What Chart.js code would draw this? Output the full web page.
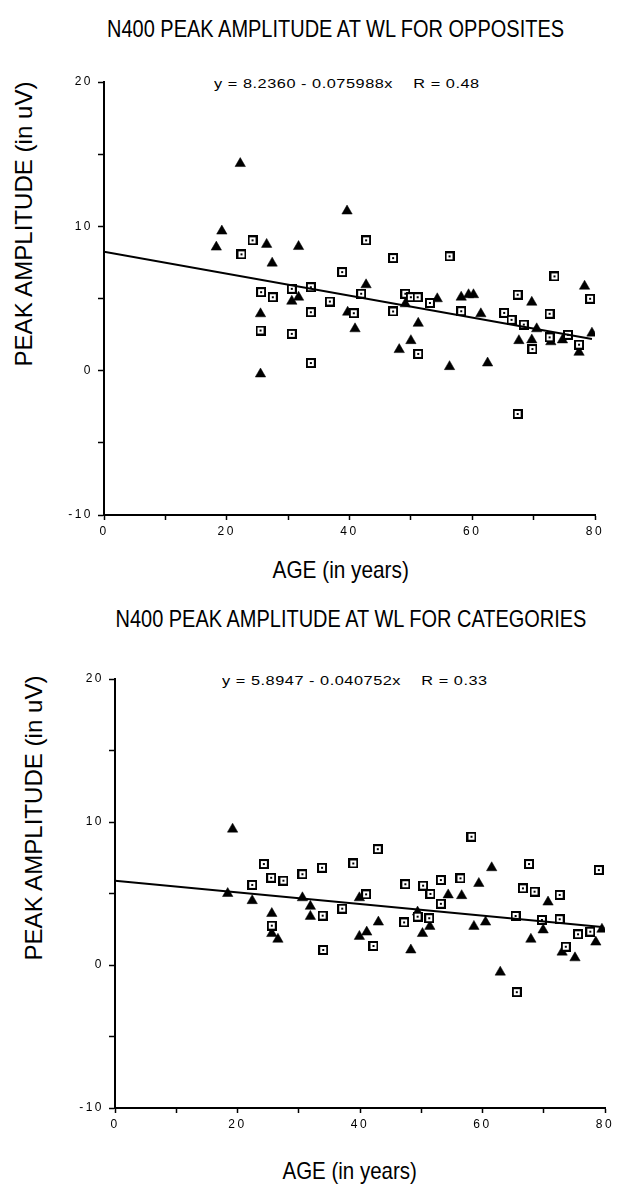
<!DOCTYPE html>
<html>
<head>
<meta charset="utf-8">
<script src="https://cdn.jsdelivr.net/npm/chart.js@4.4.1/dist/chart.umd.min.js"></script>
<style>
  body { margin: 0; background: #fff; width: 631px; height: 1184px; position: relative; overflow: hidden; }
  canvas { position: absolute; left: 0; }
  .lbl { position: absolute; white-space: pre; color: #000; line-height: 1; }
  .head { font-family: "Liberation Sans", Arial, sans-serif; font-size: 24px; }
  .eq { font-family: "Liberation Sans", Arial, sans-serif; font-size: 12px; letter-spacing: 0.4px; }
</style>
</head>
<body>
<div class="lbl head" data-cx="335" data-cy="29" data-w="457">N400 PEAK AMPLITUDE AT WL FOR OPPOSITES</div>
<div class="lbl eq" data-cx="347" data-cy="84" data-w="266">y = 8.2360 - 0.075988x    R = 0.48</div>
<div class="lbl head" data-cx="24" data-cy="224" data-w="285" data-rot="1">PEAK AMPLITUDE (in uV)</div>
<div class="lbl head" data-cx="340" data-cy="570" data-w="136">AGE (in years)</div>
<canvas id="opposites" width="631" height="545" style="top:0"></canvas>

<div class="lbl head" data-cx="351" data-cy="619" data-w="471">N400 PEAK AMPLITUDE AT WL FOR CATEGORIES</div>
<div class="lbl eq" data-cx="355" data-cy="681" data-w="266">y = 5.8947 - 0.040752x    R = 0.33</div>
<div class="lbl head" data-cx="34" data-cy="818" data-w="285" data-rot="1">PEAK AMPLITUDE (in uV)</div>
<div class="lbl head" data-cx="349" data-cy="1171" data-w="134">AGE (in years)</div>
<canvas id="categories" width="631" height="538" style="top:600px"></canvas>

<script>
// Opposites: triangles and squares (age in years, amplitude in uV)
const oppTriAge = [22.2, 19.2, 18.3, 26.5, 27.4, 25.5, 25.5, 39.6, 31.7, 30.6, 31.7, 39.7, 42.7, 49.1, 51.2, 50.0, 48.1, 40.9,
                   78.3, 54.3, 58.2, 59.4, 60.2, 61.4, 69.7, 70.5, 67.6, 69.7, 72.8, 74.7, 77.4, 79.5, 56.3, 62.5];
const oppTriAmp = [14.35, 9.67, 8.56, 8.75, 7.45, 3.94, -0.23, 11.06, 8.6, 4.81, 5.09, 4.05, 5.95, 4.63, 3.28, 2.08, 1.46, 2.9,
                   5.85, 4.98, 5.09, 5.26, 5.26, 3.94, 4.74, 2.9, 2.08, 2.13, 2.0, 2.13, 1.27, 2.6, 0.28, 0.53];
const oppSqAge = [24.2, 22.4, 25.6, 25.5, 42.7, 47.1, 38.8, 27.5, 30.6, 33.7, 36.8, 33.7, 40.7, 41.9, 49.1, 50.0, 51.1, 53.1,
                  47.1, 51.2, 30.6, 33.7, 56.3, 73.4, 79.2, 58.2, 67.4, 72.6, 65.2, 66.4, 68.4, 69.8, 72.6, 75.6, 77.4, 67.4];
const oppSqAmp = [9.03, 8.06, 5.44, 2.78, 9.03, 7.8, 6.83, 5.09, 5.67, 5.78, 4.79, 4.05, 3.98, 5.33, 5.33, 5.09, 5.09, 4.69,
                  4.1, 1.16, 2.55, 0.53, 7.92, 6.53, 4.98, 4.12, 5.26, 3.94, 4.0, 3.52, 3.19, 1.5, 2.31, 2.48, 1.8, -3.0];
const oppIntercept = 8.2360, oppSlope = -0.075988;

// Categories
const catTriAge = [19.2, 18.4, 22.4, 25.6, 25.6, 26.6, 30.6, 31.9, 31.9, 39.9, 43.0, 41.1, 39.9, 49.4, 51.4, 50.2,
                   48.3, 54.4, 56.6, 59.4, 61.5, 70.7, 69.9, 58.6, 60.5, 67.9, 78.5, 79.5, 73.0, 75.1, 62.9];
const catTriAmp = [9.5, 5.0, 4.5, 3.6, 2.2, 1.8, 4.7, 4.1, 3.4, 4.7, 3.0, 2.3, 2.0, 3.7, 2.7, 2.2,
                   1.05, 4.9, 4.85, 5.7, 6.8, 4.4, 2.45, 2.7, 3.0, 1.8, 1.6, 2.5, 0.9, 0.5, -0.5];
const catSqAge = [24.3, 25.5, 22.4, 25.6, 42.9, 38.9, 33.8, 30.6, 27.5, 47.4, 50.3, 51.5, 53.2, 41.0, 33.9, 37.1, 42.2, 34.0,
                  49.4, 47.2, 51.3, 53.2, 58.2, 67.6, 79.0, 56.4, 66.6, 68.5, 72.6, 65.4, 69.7, 72.6, 75.6, 77.6, 73.6, 65.6];
const catSqAmp = [7.06, 6.1, 5.6, 2.75, 8.1, 7.1, 6.8, 6.35, 5.9, 5.65, 5.55, 4.97, 5.94, 4.94, 3.45, 3.94, 1.33, 1.05,
                  3.38, 2.98, 3.27, 4.28, 8.97, 7.06, 6.64, 6.06, 5.36, 5.13, 4.9, 3.43, 3.15, 3.2, 2.15, 2.33, 1.28, -1.9];
const catIntercept = 5.8947, catSlope = -0.040752;

const fitAgeRange = [0, 79.5];
const ageRange = [0, 80];
const ampRange = [-10, 20];

// hollow square marker with a dot in the middle
function squareMarker() {
    const c = document.createElement('canvas');
    c.width = 10; c.height = 10;
    const g = c.getContext('2d');
    g.fillStyle = '#000'; g.fillRect(0, 0, 10, 10);
    g.fillStyle = '#fff'; g.fillRect(2, 2, 6, 6);
    g.fillStyle = '#000'; g.fillRect(4, 4, 2, 2);
    return c;
}
const sq = squareMarker();

const spacedText = {
    id: 'spacedText',
    beforeDraw(chart) { chart.ctx.letterSpacing = '2.5px'; }
};

function pairs(xs, ys) { return xs.map((x, i) => ({ x: x, y: ys[i] })); }

function makeChart(id, triAge, triAmp, sqAge, sqAmp, a, b, pad) {
    const fit = fitAgeRange.map(x => ({ x: x, y: a + b * x }));
    const tickFont = { family: 'Liberation Sans, Arial, sans-serif', size: 12 };
    return new Chart(document.getElementById(id), {
        type: 'scatter',
        data: {
            datasets: [
                { data: fit, showLine: true, borderColor: '#000', borderWidth: 2, pointRadius: 0 },
                { data: pairs(sqAge, sqAmp), pointStyle: sq, pointRadius: 5 },
                { data: pairs(triAge, triAmp), pointStyle: 'triangle', pointRadius: 6,
                  backgroundColor: '#000', borderColor: '#000', borderWidth: 0.5 }
            ]
        },
        options: {
            responsive: false,
            animation: false,
            events: [],
            layout: { padding: pad },
            plugins: { legend: { display: false }, tooltip: { enabled: false } },
            scales: {
                x: {
                    type: 'linear', min: ageRange[0], max: ageRange[1],
                    ticks: { stepSize: 10, autoSkip: false, maxRotation: 0, color: '#000', font: tickFont, padding: 4,
                             callback: v => v % 20 === 0 ? v : '' },
                    grid: { drawOnChartArea: false, tickLength: 5, tickColor: '#000', tickWidth: 1.5 },
                    border: { color: '#000', width: 2 },
                    afterFit: s => { s.height = 30; }
                },
                y: {
                    min: ampRange[0], max: ampRange[1],
                    ticks: { stepSize: 5, color: '#000', font: tickFont, padding: 5,
                             callback: v => v % 10 === 0 ? v : '' },
                    grid: { drawOnChartArea: false, tickLength: 6, tickColor: '#000', tickWidth: 1.5 },
                    border: { color: '#000', width: 2 },
                    afterFit: s => { s.width = 40; }
                }
            }
        },
        plugins: [spacedText]
    });
}

makeChart('opposites', oppTriAge, oppTriAmp, oppSqAge, oppSqAmp, oppIntercept, oppSlope,
          { left: 64, right: 36, top: 82, bottom: 0 });
makeChart('categories', catTriAge, catTriAmp, catSqAge, catSqAmp, catIntercept, catSlope,
          { left: 75, right: 26, top: 79, bottom: 0 });

// place the html labels: centre on (cx, cy), squeeze to width
document.querySelectorAll('.lbl').forEach(el => {
    const w = el.offsetWidth, h = el.offsetHeight;
    const sx = (+el.dataset.w) / w;
    el.style.left = (el.dataset.cx - w / 2) + 'px';
    el.style.top = (el.dataset.cy - h / 2) + 'px';
    el.style.transform = (el.dataset.rot ? 'rotate(-90deg) ' : '') + 'scaleX(' + sx + ')';
});
</script>
</body>
</html>
